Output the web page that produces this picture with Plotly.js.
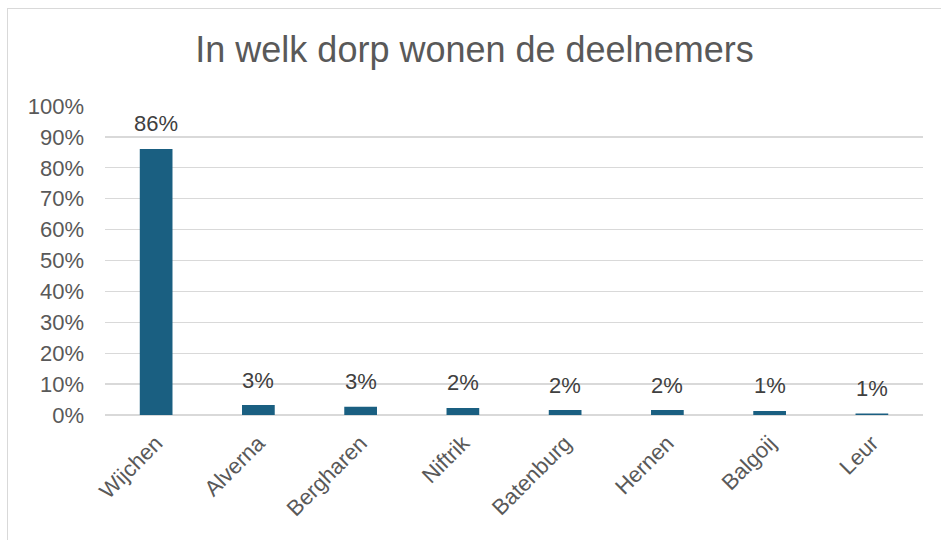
<!DOCTYPE html>
<html><head><meta charset="utf-8">
<script src="https://cdn.plot.ly/plotly-3.0.1.min.js"></script>
<style>
html,body{margin:0;padding:0;background:#fff;overflow:hidden;}
#frame{position:absolute;left:7px;top:8px;width:940px;height:540px;border-left:1px solid #d9d9d9;border-top:1px solid #d9d9d9;}
#chart{position:absolute;left:8px;top:9px;width:933px;height:531px;}
</style></head>
<body>
<div id="frame"></div>
<div id="chart"></div>
<script>
const categories = ["Wijchen","Alverna","Bergharen","Niftrik","Batenburg","Hernen","Balgoij","Leur"];
const values = [86.1, 3.2, 2.7, 2.3, 1.6, 1.6, 1.3, 0.5];
const labels = ["86%","3%","3%","2%","2%","2%","1%","1%"];
const yTicks = [0,10,20,30,40,50,60,70,80,90,100];

const grey = "#595959";
const font = "Liberation Sans, Arial, sans-serif";

const trace = {
  type: "bar",
  x: categories,
  y: values,
  width: 0.32,
  marker: {color: "#1a5f81"},
  hoverinfo: "skip"
};

const annotations = categories.map((c, i) => ({
  x: c, y: values[i], xref: "x", yref: "y",
  text: labels[i], showarrow: false,
  yanchor: "middle", yshift: 25,
  font: {family: font, size: 22, color: "#404040"}
}));

const layout = {
  width: 933, height: 531,
  margin: {l: 97, r: 18, t: 97, b: 125},
  paper_bgcolor: "#fff", plot_bgcolor: "#fff",
  showlegend: false,
  bargap: 0.68,
  title: {text: "In welk dorp wonen de deelnemers", x: 0.5, xanchor: "center",
          y: 0.923, yanchor: "middle", yref: "container",
          font: {family: font, size: 36, color: grey}},
  xaxis: {
    type: "category", tickangle: -45,
    tickfont: {family: font, size: 22, color: grey},
    showgrid: false, showline: false, ticks: "", zeroline: false,
    ticklabelstandoff: 10
  },
  yaxis: {
    range: [0, 100], tickvals: yTicks, ticktext: yTicks.map(v => v + "%"),
    tickfont: {family: font, size: 22, color: grey},
    gridcolor: "#d9d9d9", gridwidth: 1.3, zeroline: true, zerolinecolor: "#d9d9d9", zerolinewidth: 2,
    showline: false, ticks: "", ticklen: 0, automargin: false, ticklabelstandoff: 20
  },
  annotations: annotations
};

Plotly.newPlot("chart", [trace], layout, {displayModeBar: false, staticPlot: true});
</script>
</body></html>
